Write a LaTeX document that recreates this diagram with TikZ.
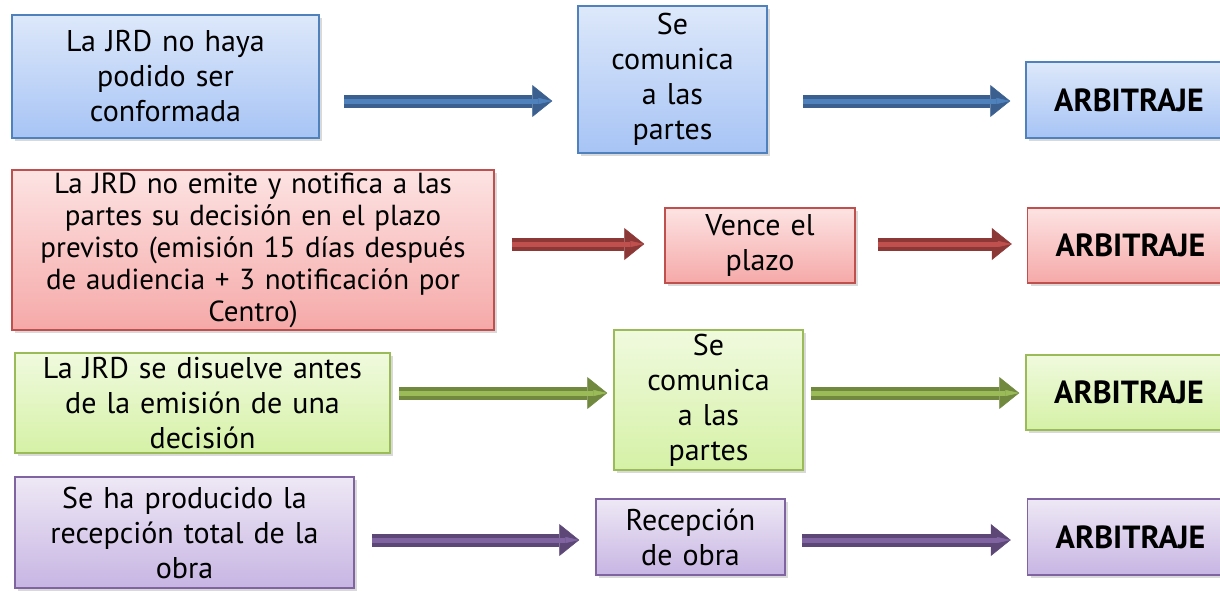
\documentclass[tikz,border=0pt]{standalone}
\usepackage{fontspec}
\setmainfont{PT Sans}
\usepackage{xcolor}
\usepackage{tikz}
\usetikzlibrary{positioning}
\usetikzlibrary{arrows.meta,shadows}

\definecolor{azulborde}{HTML}{4F81BD}
\definecolor{azularriba}{HTML}{DDE8FA}
\definecolor{azulabajo}{HTML}{A7C4F5}
\definecolor{azulflecha}{HTML}{3B6090}
\definecolor{rojoborde}{HTML}{C0504D}
\definecolor{rojoarriba}{HTML}{FDE3E3}
\definecolor{rojoabajo}{HTML}{F5A9A8}
\definecolor{rojoflecha}{HTML}{8C3836}
\definecolor{verdeborde}{HTML}{9BBB59}
\definecolor{verdearriba}{HTML}{F0FADE}
\definecolor{verdeabajo}{HTML}{D5F1A6}
\definecolor{verdeflecha}{HTML}{71893F}
\definecolor{moradoborde}{HTML}{8064A2}
\definecolor{moradoarriba}{HTML}{EEE8F5}
\definecolor{moradoabajo}{HTML}{C7B5E3}
\definecolor{moradoflecha}{HTML}{5C4776}

\tikzset{
	caja/.style={draw, line width=1.5pt, inner sep=0pt, align=center,
		font=\fontsize{30}{35}\selectfont,
		drop shadow={shadow xshift=3pt, shadow yshift=-3pt, opacity=0.3}},
	azul/.style={caja, draw=azulborde, top color=azularriba, bottom color=azulabajo},
	rojo/.style={caja, draw=rojoborde, top color=rojoarriba, bottom color=rojoabajo},
	verde/.style={caja, draw=verdeborde, top color=verdearriba, bottom color=verdeabajo},
	morado/.style={caja, draw=moradoborde, top color=moradoarriba, bottom color=moradoabajo},
	final/.style={text width=206pt, minimum height=76pt, font=\fontsize{32}{35}\selectfont\bfseries},
	flecha/.style 2 args={line width=13pt, draw=#1,
		-{Triangle[length=20pt, width=32pt, line width=0.5pt]},
		postaction={draw=#2, line width=5pt, -{Triangle[length=14pt, width=6pt, line width=0.5pt]}}}
}

\begin{document}
\begin{tikzpicture}[x=1pt, y=-1pt]
	\useasboundingbox (0,0) rectangle (1220,590);
	
	% fila 1
	\node[azul, text width=307pt, minimum height=123pt] (jrd1) at (165.5,76.5) {La JRD no haya\\ podido ser\\ conformada};
	\node[azul, text width=189pt, minimum height=147pt] (comunica1) at (672.5,79.5) {Se\\ comunica\\ a las\\ partes};
	\node[azul, final] (arb1) at (1129,100) {ARBITRAJE};
	\coordinate (f1) at (0,101);
	
	\draw[flecha={azulflecha}{azulborde}, shorten <=24pt, shorten >=25pt] (jrd1.east |- f1) -- (comunica1.west |- f1);
	\draw[flecha={azulflecha}{azulborde}, shorten <=35pt, shorten >=15pt] (comunica1.east |- f1) -- (arb1.west |- f1);
	
	% fila 2
	\node[rojo, text width=482pt, minimum height=160pt, font=\fontsize{29}{32}\selectfont] (jrd2) at (253,250) {La JRD no emite y notifica a las\\ partes su decisión en el plazo\\ previsto (emisión 15 días después\\ de audiencia + 3 notificación por\\ Centro)};
	\node[rojo, text width=190pt, minimum height=75pt] (vence) at (760,245.5) {Vence el\\ plazo};
	\node[rojo, final, minimum height=75pt] (arb2) [right = 171pt of vence] {ARBITRAJE};
	\coordinate (f2) at (0,244);
	
	\draw[flecha={rojoflecha}{rojoborde}, shorten <=17pt, shorten >=20pt] (jrd2.east |- f2) -- (vence.west |- f2);
	\draw[flecha={rojoflecha}{rojoborde}, shorten <=22pt, shorten >=15pt] (vence.east |- f2) -- (arb2.west |- f2);
	
	% fila 3
	\node[verde, text width=375pt, minimum height=100pt] (jrd3) at (202.5,403) {La JRD se disuelve antes\\ de la emisión de una\\ decisión};
	\node[verde, text width=189pt, minimum height=140pt] (comunica3) at (708.5,400) {Se\\ comunica\\ a las\\ partes};
	\node[verde, final, minimum height=75pt] (arb3) at (1129,392.5) {ARBITRAJE};
	\coordinate (f3) at (0,393);
	
	\draw[flecha={verdeflecha}{verdeborde}, shorten <=8pt, shorten >=6pt] (jrd3.east |- f3) -- (comunica3.west |- f3);
	\draw[flecha={verdeflecha}{verdeborde}, shorten <=7pt, shorten >=6pt] (comunica3.east |- f3) -- (arb3.west |- f3);
	
	% fila 4
	\node[morado, text width=339pt, minimum height=111pt] (jrd4) at (184.5,532.5) {Se ha producido la\\ recepción total de la\\ obra};
	\node[morado, text width=189pt, minimum height=76pt] (recepcion) at (690.5,537) {Recepción\\ de obra};
	\node[morado, final] (arb4) [right = 241pt of recepcion] {ARBITRAJE};
	\coordinate (f4) at (0,540);
	
	\draw[flecha={moradoflecha}{moradoborde}, shorten <=17pt, shorten >=16pt] (jrd4.east |- f4) -- (recepcion.west |- f4);
	\draw[flecha={moradoflecha}{moradoborde}, shorten <=16pt, shorten >=16pt] (recepcion.east |- f4) -- (arb4.west |- f4);
\end{tikzpicture}
\end{document}
